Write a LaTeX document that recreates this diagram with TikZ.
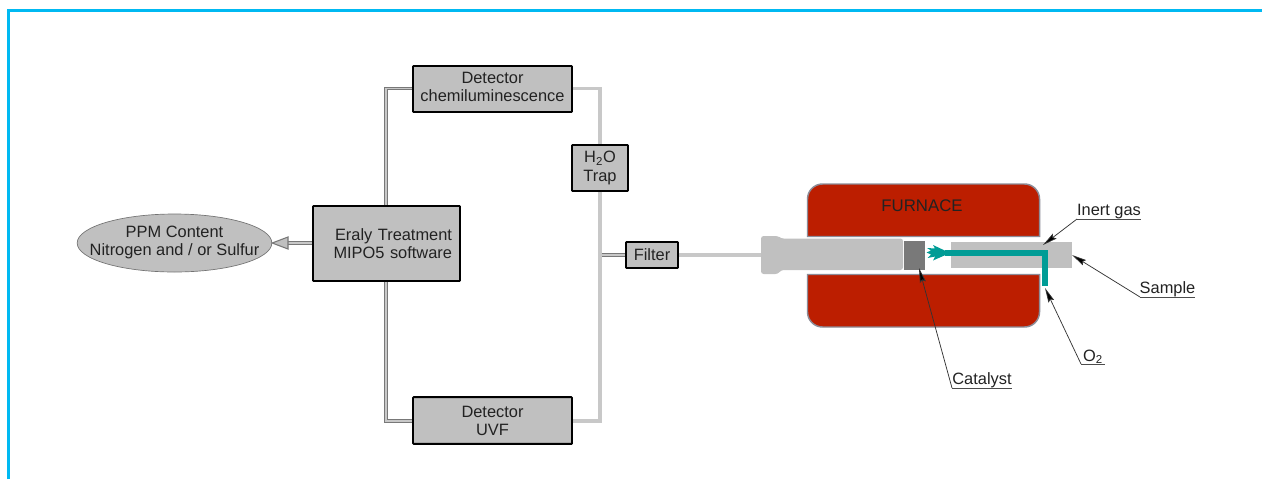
\documentclass[tikz,border=0pt]{standalone}
\usepackage{fontspec}
\setmainfont{Liberation Sans}
\usetikzlibrary{arrows.meta,calc,shapes.geometric}
\definecolor{boxgray}{HTML}{C0C0C0}
\definecolor{linegray}{HTML}{C8C8C8}
\definecolor{dlgray}{HTML}{787878}
\definecolor{furnred}{HTML}{BC1E00}
\definecolor{furnedge}{HTML}{8C8C98}
\definecolor{teal2}{HTML}{009C96}
\definecolor{framecol}{HTML}{00B9F2}
\definecolor{txt}{HTML}{222222}
\tikzset{
  x=0.75pt,y=-0.75pt,
  every node/.style={font=\fontsize{12.3}{13.6}\selectfont,text=txt,align=center,inner sep=0pt},
  boxnode/.style={draw=black,line width=1.4pt,fill=boxgray,rounded corners=0.5pt},
  dblline/.style={draw=dlgray,line width=0.8pt,double=linegray,double distance=1.2pt,line join=miter},
  gasline/.style={draw=linegray,line width=2.4pt,line join=miter},
  tubefill/.style={fill=boxgray,draw=none},
  furnblock/.style={fill=furnred,draw=furnedge,line width=1.1pt},
  leader/.style={draw=black!80,line width=0.55pt},
  leadarrow/.style={leader,-{Stealth[length=11pt,width=4.6pt,inset=1.5pt,fill=black]}},
  uline/.style={draw=black!70,line width=0.6pt},
}
\newcommand{\liftlines}[3]{\raisebox{#1}{\begin{tabular}{@{}c@{}}#2\\#3\end{tabular}}}
\begin{document}
\begin{tikzpicture}
\useasboundingbox (0,0) rectangle (1262,479);
\fill[white] (0,0) rectangle (1262,479);
\draw[framecol,line width=1.6pt] (8.5,479) -- (8.5,10.5) -- (1262,10.5);

% named junctions
\coordinate (jl1) at (386,88.5);
\coordinate (jl2) at (386,421);
\coordinate (jr1) at (600,88.5);
\coordinate (jr2) at (600,421);
\coordinate (jf) at (601.5,255);
\coordinate (jtube) at (762,255);
\coordinate (jhead) at (288,243);

% boxes
\node[boxnode,minimum width=119.25pt,minimum height=34.5pt] (chem) at (492.5,89) {\liftlines{0pt}{Detector}{chemiluminescence}};
\node[boxnode,minimum width=119.25pt,minimum height=35pt] (uvf) at (492.5,420.5) {Detector\\UVF};
\node[boxnode,minimum width=42pt,minimum height=34.5pt] (trap) at (600,168) {H\textsubscript{2}O\\Trap};
\node[boxnode,minimum width=39pt,minimum height=19.5pt] (filter) at (652,255) {Filter};
\node[boxnode,minimum width=110.25pt,minimum height=56.25pt,text width=98.25pt,inner xsep=6pt,align=right] (early) at (386.5,243.5) {Eraly Treatment\\MIPO5 software};
\node[draw=black!55,line width=0.5pt,fill=boxgray,ellipse,minimum width=146pt,minimum height=43.5pt,inner xsep=-13.5pt,inner ysep=0pt] (ppm) at (174.5,243) {\liftlines{1.6pt}{PPM Content}{Nitrogen and / or Sulfur}};

% connectors
\draw[dblline] (early.north -| jl1) -- (jl1) -- (jl1 -| chem.west);
\draw[dblline] (early.south -| jl2) -- (jl2) -- (jl2 -| uvf.west);
\draw[gasline] (jr1 -| chem.east) -- (jr1) -- (trap.north);
\draw[gasline] (trap.south) -- (jr2) -- (jr2 -| uvf.east);
\draw[dblline] (jf) -- (filter.west);
\draw[gasline] (filter.east) -- (jtube);
\draw[dblline] (early.west |- jhead) -- (jhead);
\draw[fill=boxgray,draw=dlgray,line width=0.8pt] (ppm.east) -- (288,237) -- (288,249) -- cycle;

% furnace
\draw[furnblock] (807.5,236.5) -- (807.5,199) .. controls (807.5,190.7) and (814.2,184) .. (822.5,184) -- (1024.5,184) .. controls (1032.8,184) and (1039.5,190.7) .. (1039.5,199) -- (1039.5,236.5) -- cycle;
\draw[furnblock] (807.5,274.5) -- (1039.5,274.5) -- (1039.5,312) .. controls (1039.5,320.3) and (1032.8,327) .. (1024.5,327) -- (822.5,327) .. controls (814.2,327) and (807.5,320.3) .. (807.5,312) -- cycle;
\node[font=\fontsize{12.6}{13.6}\selectfont] (furn) at (922,206) {FURNACE};

% tube
\fill[tubefill,rounded corners=2pt] (761,236) -- (778,236) -- (781,238.5) -- (903,238.5) -- (903,270) -- (781,270) -- (778,274) -- (761,274) -- cycle;
\fill[gray!95!black] (904,240.5) rectangle (925,270);
\fill[tubefill] (951,242) rectangle (1072,268);

% teal injector
\draw[teal2,line width=3.8pt,line join=miter] (945,253) -- (1045,253) -- (1045,286);
\fill[teal2] (950,253) -- (933,245) -- (935,248.5) -- (927,248) -- (931,250.5) -- (926.5,252.5) -- (931,254.5) -- (927.5,258) -- (935,256.5) -- (933,260.5) -- cycle;

% leaders
\coordinate (tinert) at (1043,245);
\coordinate (tsample) at (1072,255);
\coordinate (to2) at (1045,288);
\coordinate (tcat) at (919,268);
\node[anchor=south] (linert) at (1109,219) {Inert gas};
\node[anchor=south] (lsample) at (1167.5,297.5) {Sample};
\node[anchor=south] (lotwo) at (1093,364) {O\textsubscript{2}};
\node[anchor=south] (lcat) at (982,388) {Catalyst};
\draw[uline] (1077,219) -- (1141,219);
\draw[uline] (1140,297) -- (1195,297);
\draw[uline] (1081,364) -- (1105,364);
\draw[uline] (952,388) -- (1012,388);
\draw[leadarrow] (1077,219) -- (tinert);
\draw[leadarrow] (1140,297) -- (tsample);
\draw[leadarrow] (1081,364) -- (to2);
\draw[leadarrow] (952,388) -- (tcat);
\end{tikzpicture}
\end{document}
